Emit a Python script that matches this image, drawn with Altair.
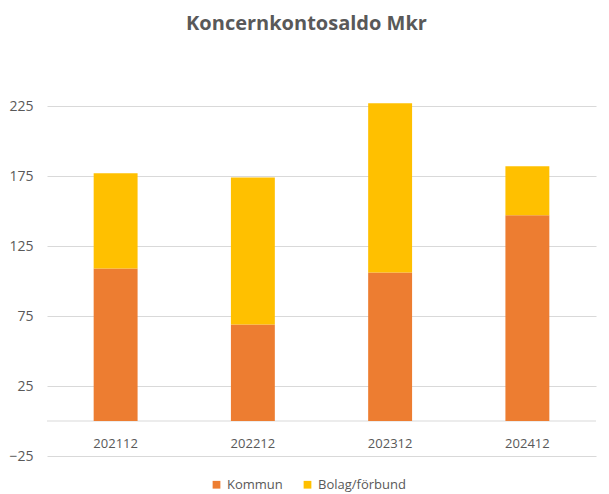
import altair as alt
import pandas as pd

periods = ["202112", "202212", "202312", "202412"]
kommun = [109, 69, 106, 147]
bolag = [68, 105, 121, 35]
series_names = ["Kommun", "Bolag/förbund"]
colors = ["#ED7D31", "#FFC000"]
y_ticks = [-25, 25, 75, 125, 175, 225]

rows = []
for p, k, b in zip(periods, kommun, bolag):
    rows.append({"period": p, "serie": series_names[0], "value": k, "order": 0})
    rows.append({"period": p, "serie": series_names[1], "value": b, "order": 1})
df = pd.DataFrame(rows)

FONT = "Open Sans"
GRAY = "#595959"
GRID = "#D9D9D9"

x_enc = alt.X(
    "period:N",
    sort=periods,
    scale=alt.Scale(paddingInner=0.68, paddingOuter=0.34),
    axis=alt.Axis(
        title=None, domain=False, ticks=False, labelAngle=0,
        labelFont=FONT, labelFontSize=13, labelColor=GRAY,
        labelPadding=16, offset=-35, grid=False,
    ),
)

bars = alt.Chart(df).mark_bar().encode(
    x=x_enc,
    y=alt.Y(
        "value:Q",
        stack="zero",
        scale=alt.Scale(domain=[-25, 230], nice=False, zero=False),
        axis=alt.Axis(
            title=None, values=y_ticks, domain=False, ticks=False,
            grid=True, gridColor=GRID, gridWidth=1,
            labelFont=FONT, labelFontSize=14, labelColor=GRAY, labelPadding=14,
        ),
    ),
    color=alt.Color(
        "serie:N",
        sort=series_names,
        scale=alt.Scale(domain=series_names, range=colors),
        legend=alt.Legend(
            title=None, orient="none", direction="horizontal",
            legendX=163, legendY=379, symbolType="square", symbolSize=60,
            symbolStrokeWidth=0, labelFont=FONT, labelFontSize=13,
            labelColor=GRAY, columnPadding=18, labelOffset=4,
        ),
    ),
    order=alt.Order("order:Q"),
)

zero_rule = alt.Chart(pd.DataFrame({"y": [0]})).mark_rule(color=GRID, strokeWidth=1).encode(
    y=alt.Y("y:Q")
)

chart = alt.layer(zero_rule, bars).properties(
    width=549,
    height=357,
    background="white",
    autosize=alt.AutoSizeParams(type="none"),
    padding={"left": 39, "top": 91, "right": 5, "bottom": 38},
    title=alt.TitleParams(
        "Koncernkontosaldo Mkr", font=FONT, fontSize=20, fontWeight="bold",
        color=GRAY, anchor="middle", frame="group", baseline="middle",
        offset=55, dx=-15,
    ),
).configure_view(strokeWidth=0, stroke="transparent")

chart.save("out.html", embed_options={"renderer": "svg", "actions": False})
